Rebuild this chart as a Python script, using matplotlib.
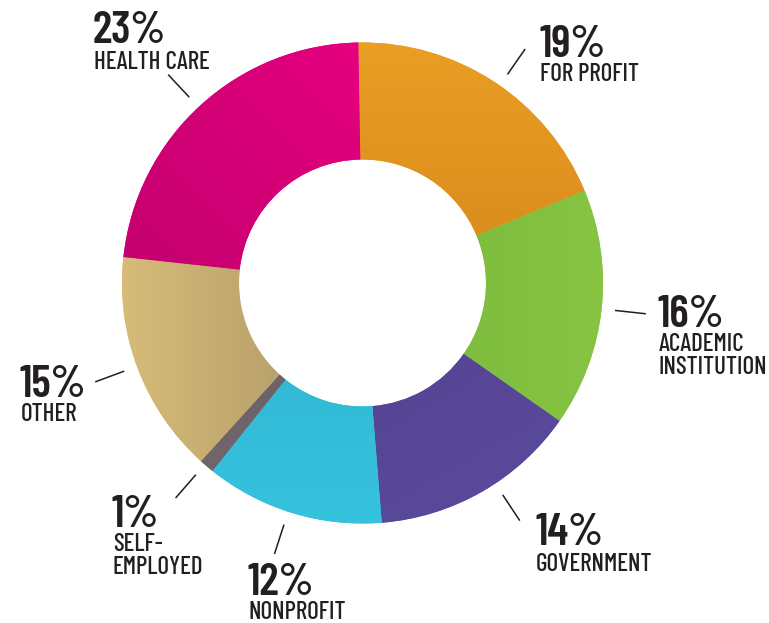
import numpy as np
import matplotlib
matplotlib.use("Agg")
import matplotlib.pyplot as plt
from matplotlib.colors import to_rgb

# Share of respondents by employment sector (clockwise from the top)
sectors = ["FOR PROFIT", "ACADEMIC\nINSTITUTION", "GOVERNMENT", "NONPROFIT",
           "SELF-\nEMPLOYED", "OTHER", "HEALTH CARE"]
shares = [19, 16, 14, 12, 1, 15, 23]

# Two-tone fill per slice: (first colour, second colour, gradient direction in degrees)
shades = [
    ("#e99e24", "#d98a1c", -90),
    ("#87c442", "#79b83e", 180),
    ("#5b4b9e", "#53428f", 120),
    ("#36c3de", "#2fb3d0", 90),
    ("#70666b", "#685e64", 0),
    ("#d7bc79", "#ab9465", 0),
    ("#e6007f", "#c2006d", -135),
]

# Label anchors: left x, baseline of the percentage, baseline of the first label line
label_pos = [
    (539, 57, 81),
    (658, 327, 351),
    (535, 545, 571),
    (248, 595, 619),
    (112, 527, 551),
    (20, 397, 421),
    (93, 43, 69),
]
# Direction of each leader tick (degrees, counter-clockwise from +x)
leader_angle = [55.2, -6.2, -56.5, -108.0, -131.0, -159.7, 133.0]

W, H = 769, 623
cx, cy = 362.5, H - 283
R_OUT, RING = 240.5, 117
INK = "#231f20"
FONT = "Barlow Condensed"

fig = plt.figure(figsize=(W / 100, H / 100), dpi=100)
ax = fig.add_axes([0, 0, 1, 1])

wedges, _ = ax.pie(shares, radius=R_OUT, center=(cx, cy), startangle=91,
                   counterclock=False,
                   wedgeprops=dict(width=RING, linewidth=0))

# Gradient fill clipped to each wedge
n = 256
for w, (c0, c1, ang) in zip(wedges, shades):
    w.set_facecolor(c0)
    verts = w.get_path().vertices
    x0, y0 = verts.min(axis=0)
    x1, y1 = verts.max(axis=0)
    xs = np.linspace(x0, x1, n)
    ys = np.linspace(y0, y1, n)
    X, Y = np.meshgrid(xs, ys)
    d = np.deg2rad(ang)
    proj = X * np.cos(d) + Y * np.sin(d)
    t = (proj - proj.min()) / max(proj.max() - proj.min(), 1e-9)
    a, b = np.array(to_rgb(c0)), np.array(to_rgb(c1))
    img = a[None, None, :] * (1 - t[..., None]) + b[None, None, :] * t[..., None]
    im = ax.imshow(img, extent=(x0, x1, y0, y1), origin="lower",
                   interpolation="bilinear", zorder=1.5)
    im.set_clip_path(w)

# Leader ticks and labels
for share, name, (lx, nb, lb), ang in zip(shares, sectors, label_pos, leader_angle):
    a = np.deg2rad(ang)
    r1, r2 = 254, 285
    ax.plot([cx + r1 * np.cos(a), cx + r2 * np.cos(a)],
            [cy + r1 * np.sin(a), cy + r2 * np.sin(a)],
            color=INK, lw=1.1, solid_capstyle="butt", zorder=3)
    ax.text(lx, H - nb, f"{share}%", family=FONT, weight="semibold",
            fontsize=32.5, color=INK, ha="left", va="baseline")
    for i, line in enumerate(name.split("\n")):
        ax.text(lx + 1, H - (lb + 23 * i), line, family=FONT, weight="medium",
                fontsize=18, color=INK, ha="left", va="baseline")

ax.set_xlim(0, W)
ax.set_ylim(0, H)
ax.set_aspect("auto")
ax.axis("off")

fig.savefig("out.png", dpi=100, facecolor="white")
